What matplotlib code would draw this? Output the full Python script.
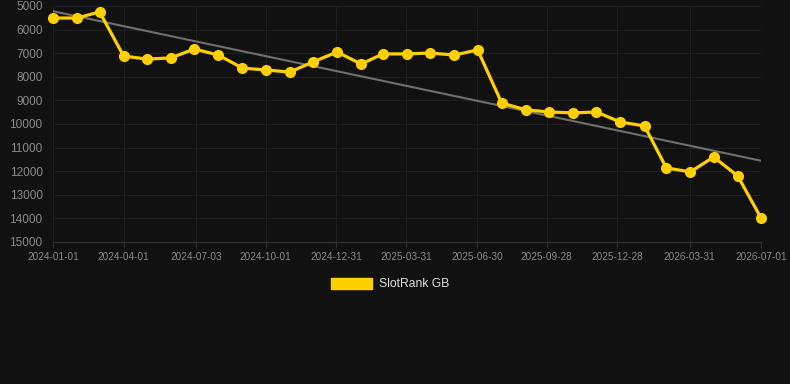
import matplotlib
matplotlib.use("Agg")
import matplotlib.pyplot as plt
import matplotlib.dates as mdates
import matplotlib.patches as mpatches
import numpy as np
import pandas as pd

plt.rcParams["font.family"] = ["Liberation Sans", "DejaVu Sans"]

# monthly rank values (lower is better, axis inverted)
dates = pd.date_range("2024-01-01", "2026-07-01", freq="MS")
ranks = [5510, 5510, 5250, 7120, 7250, 7200, 6820, 7080, 7630, 7710, 7800,
         7370, 6950, 7460, 7030, 7030, 6990, 7080, 6860, 9110, 9400, 9490,
         9530, 9490, 9920, 10080, 11860, 12030, 11400, 12200, 13980]
tick_dates = ["2024-01-01", "2024-04-01", "2024-07-03", "2024-10-01",
              "2024-12-31", "2025-03-31", "2025-06-30", "2025-09-28",
              "2025-12-28", "2026-03-31", "2026-07-01"]
y_ticks = list(range(5000, 15001, 1000))
series_name = "SlotRank GB"

bg = "#111111"
gold = "#ffd000"

fig = plt.figure(figsize=(7.9, 3.84), dpi=100, facecolor=bg)
ax = fig.add_axes([53 / 790, 1 - 242 / 384, (761 - 53) / 790, (242 - 6) / 384])
ax.set_facecolor(bg)

x = mdates.date2num(dates)
# trend line
k, b = np.polyfit(x, ranks, 1)
ax.plot([x[0], x[-1]], [k * x[0] + b, k * x[-1] + b], color="#707070", lw=1.5, zorder=2)

ax.plot(x, ranks, color=gold, lw=2.3, marker="o", markersize=7, zorder=3, clip_on=False)

ax.set_ylim(15000, 5000)
ax.set_yticks(y_ticks)
ax.set_xlim(mdates.date2num(pd.Timestamp("2024-01-01")), mdates.date2num(pd.Timestamp("2026-07-01")))
tx = mdates.date2num(pd.to_datetime(tick_dates))
ax.set_xticks(tx)
ax.set_xticklabels(tick_dates)

ax.grid(True, color="#1f1f1f", lw=0.8)
ax.set_axisbelow(True)
for s in ["top", "right", "left"]:
    ax.spines[s].set_visible(False)
ax.spines["bottom"].set_color("#333333")
ax.tick_params(axis="y", colors="#8a8a8a", labelsize=8.5, length=0, pad=7.5)
ax.tick_params(axis="x", colors="#8a8a8a", labelsize=7.2, length=4, color="#333333", pad=3, width=0.8)

handle = mpatches.Patch(color=gold, label=series_name)
leg = fig.legend(handles=[handle], loc="center", bbox_to_anchor=(390 / 790, 1 - 284 / 384),
                 frameon=False, fontsize=8.7, handlelength=3.4, handleheight=1.0,
                 handletextpad=0.6, labelcolor="#dddddd")

fig.savefig("out.png", dpi=100, facecolor=bg)
